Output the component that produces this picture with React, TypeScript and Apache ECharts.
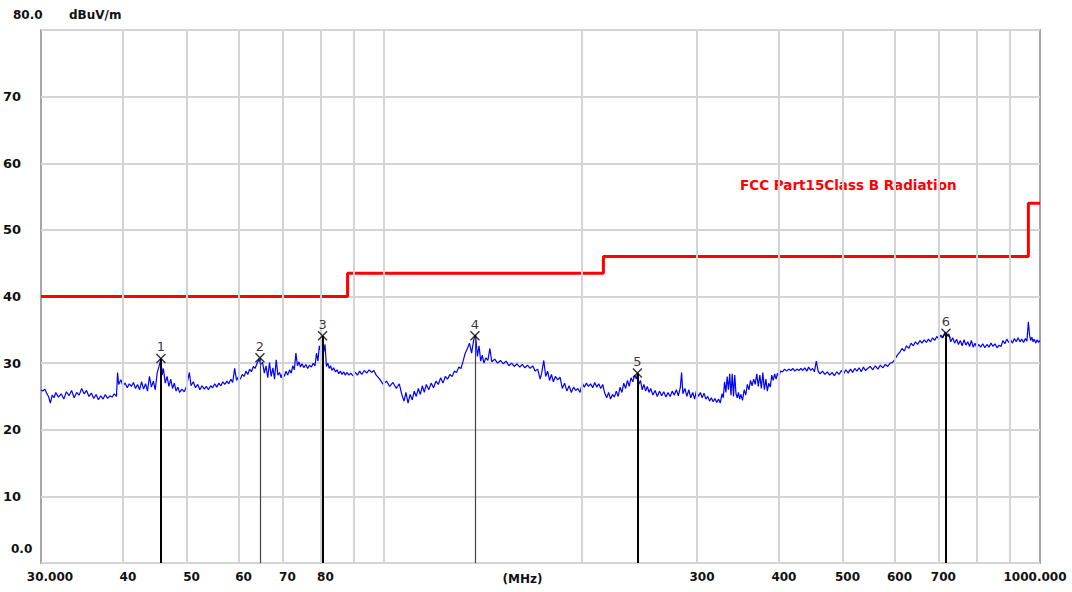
import React, { useEffect, useRef } from "react";
import * as echarts from "echarts";

// Limit line (FCC Part 15 Class B, 3 m) — [MHz, dBuV/m]
const limitSteps: [number, number][] = [
  [30, 40], [88, 40], [88, 43.5], [216, 43.5], [216, 46], [960, 46], [960, 54], [1000, 54],
];

// Measured trace — [MHz, dBuV/m]
const trace: [number, number][] = [
  [30.0, 26.0], [30.2, 25.8], [30.4, 26.1], [30.6, 25.5], [30.8, 25.0], [31.0, 24.0], [31.2, 25.2], [31.4, 24.8],
  [31.6, 25.6], [31.9, 24.9], [32.2, 25.4], [32.5, 24.6], [32.8, 25.7], [33.1, 25.1], [33.4, 25.9], [33.7, 24.8],
  [34.0, 25.6], [34.3, 25.2], [34.6, 26.2], [34.9, 25.4], [35.2, 25.9], [35.5, 25.0], [35.8, 25.5], [36.1, 24.7],
  [36.4, 25.3], [36.7, 24.5], [37.0, 25.1], [37.3, 24.6], [37.6, 25.3], [37.9, 24.7], [38.2, 25.1], [38.5, 24.9],
  [38.8, 25.4], [39.1, 25.0], [39.25, 28.6], [39.4, 26.8], [39.7, 27.5], [40.0, 26.6], [40.3, 27.0], [40.6, 26.3],
  [40.9, 26.9], [41.2, 26.5], [41.5, 27.1], [41.8, 26.2], [42.1, 26.8], [42.4, 26.0], [42.7, 27.2], [43.0, 26.1],
  [43.3, 26.9], [43.6, 25.8], [43.9, 28.0], [44.2, 26.4], [44.5, 27.3], [44.8, 26.0], [45.1, 28.5], [45.4, 29.5],
  [45.7, 30.6], [45.9, 28.2], [46.1, 29.2], [46.4, 27.0], [46.7, 28.0], [47.0, 26.5], [47.3, 27.6], [47.6, 26.2],
  [47.9, 27.0], [48.2, 25.8], [48.5, 26.4], [48.8, 25.6], [49.2, 26.1], [49.6, 25.7], [50.0, 26.5], [50.5, 28.6],
  [50.8, 26.6], [51.2, 27.2], [51.6, 26.3], [52.0, 26.8], [52.4, 26.0], [52.8, 26.6], [53.2, 26.1], [53.6, 26.5],
  [54.0, 26.0], [54.4, 26.6], [54.8, 26.3], [55.2, 26.9], [55.6, 26.4], [56.0, 27.0], [56.4, 26.6], [56.8, 27.2],
  [57.2, 26.8], [57.6, 27.3], [58.0, 26.9], [58.4, 27.6], [58.8, 27.1], [59.2, 29.2], [59.6, 27.4], [60.0, 28.0],
  [60.4, 27.6], [60.8, 28.3], [61.2, 28.0], [61.6, 28.8], [62.0, 28.3], [62.4, 29.1], [62.8, 28.7], [63.2, 29.5],
  [63.6, 29.2], [64.0, 29.9], [64.5, 30.6], [64.9, 29.8], [65.3, 30.1], [65.7, 28.5], [66.1, 29.6], [66.5, 27.8],
  [66.9, 30.1], [67.3, 28.0], [67.7, 29.3], [68.1, 27.6], [68.5, 30.5], [68.9, 28.2], [69.3, 28.6], [69.7, 27.8],
  [70.1, 28.6], [70.5, 28.0], [70.9, 28.8], [71.3, 28.2], [71.8, 29.0], [72.2, 28.5], [72.6, 29.6], [73.0, 29.0],
  [73.4, 31.5], [73.8, 29.6], [74.2, 30.2], [74.6, 29.4], [75.0, 29.9], [75.5, 29.3], [76.0, 29.8], [76.5, 29.2],
  [77.0, 29.7], [77.5, 29.4], [78.0, 30.0], [78.5, 29.6], [78.9, 31.5], [79.3, 30.3], [79.7, 32.6], [80.1, 31.8],
  [80.5, 33.9], [80.9, 31.6], [81.3, 32.8], [81.7, 29.5], [82.1, 30.0], [82.5, 29.2], [82.9, 29.6], [83.3, 28.9],
  [83.8, 29.3], [84.3, 28.7], [84.8, 29.0], [85.3, 28.4], [85.8, 28.8], [86.3, 28.3], [86.8, 28.7], [87.3, 28.2],
  [87.8, 28.6], [88.4, 28.2], [89.0, 28.5], [89.7, 28.1], [90.4, 28.6], [91.1, 28.2], [91.8, 28.8], [92.5, 28.3],
  [93.3, 28.9], [94.1, 28.5], [94.9, 29.0], [95.7, 28.6], [96.5, 28.9], [97.3, 28.2], [98.5, 27.6], [99.7, 26.8],
  [100.9, 27.3], [102.0, 26.5], [103.2, 27.1], [104.4, 26.2], [105.5, 26.9], [106.5, 25.2], [107.3, 24.3], [108.0, 25.6],
  [108.8, 24.0], [109.6, 25.3], [110.4, 24.5], [111.2, 25.8], [112.0, 25.0], [112.8, 26.2], [113.6, 25.3], [114.4, 26.6],
  [115.2, 25.6], [116.0, 26.8], [117.0, 26.0], [118.0, 27.0], [119.0, 26.3], [120.0, 27.3], [121.0, 26.8], [122.0, 27.8],
  [123.0, 27.0], [124.0, 28.0], [125.0, 27.6], [126.0, 28.3], [127.0, 28.0], [128.0, 28.8], [129.0, 28.6], [130.0, 29.4],
  [131.0, 29.2], [132.0, 30.3], [133.0, 31.5], [134.0, 32.2], [135.0, 33.0], [136.0, 31.5], [137.0, 33.5], [137.9, 34.2],
  [138.8, 31.0], [139.6, 32.6], [140.4, 30.3], [141.2, 31.2], [142.0, 30.0], [143.0, 30.8], [144.0, 30.4], [145.0, 32.2],
  [146.0, 30.2], [147.5, 30.6], [149.0, 30.0], [150.5, 30.4], [152.0, 29.9], [153.5, 30.3], [155.0, 29.6], [156.5, 30.0],
  [158.0, 29.5], [159.5, 29.9], [161.0, 29.4], [162.5, 29.8], [164.0, 29.3], [165.5, 29.7], [167.0, 29.2], [168.5, 29.6],
  [170.0, 28.8], [171.5, 29.1], [173.0, 27.6], [174.0, 28.6], [175.2, 30.4], [176.4, 28.0], [177.6, 28.8], [178.8, 27.4],
  [180.0, 28.3], [181.2, 27.2], [182.5, 28.0], [184.0, 27.5], [185.5, 27.9], [187.0, 26.2], [188.5, 27.0], [190.0, 25.8],
  [191.5, 26.6], [193.0, 25.6], [194.5, 26.4], [196.0, 25.9], [197.5, 26.2], [199.0, 25.6], [200.5, 27.0], [202.0, 26.4],
  [203.5, 27.0], [205.0, 26.5], [206.5, 26.9], [208.0, 26.3], [209.5, 27.1], [211.0, 26.4], [212.5, 26.9], [214.0, 26.2],
  [215.5, 26.8], [217.0, 25.5], [218.5, 24.8], [220.0, 25.6], [221.5, 24.6], [223.0, 25.3], [224.5, 24.9], [226.0, 25.8],
  [227.5, 25.0], [229.0, 26.4], [230.5, 25.6], [232.0, 27.0], [233.5, 26.2], [235.0, 27.4], [236.5, 26.5], [238.0, 27.8],
  [239.5, 27.2], [241.0, 28.2], [242.5, 27.6], [243.4, 28.4], [244.5, 26.8], [246.0, 27.4], [247.5, 26.0], [249.0, 26.8],
  [250.5, 25.8], [252.0, 26.5], [253.5, 25.6], [255.0, 26.2], [257.0, 25.2], [259.0, 25.9], [261.0, 25.0], [263.0, 25.8],
  [265.0, 25.1], [267.0, 25.7], [269.0, 24.9], [271.0, 25.6], [273.0, 25.0], [275.0, 25.8], [277.0, 25.2], [279.0, 26.0],
  [281.0, 25.1], [283.0, 26.4], [284.2, 28.6], [285.5, 25.4], [287.5, 26.2], [289.5, 25.0], [291.5, 26.0], [293.5, 24.8],
  [295.5, 25.6], [297.5, 24.6], [299.5, 25.9], [301.5, 25.0], [303.6, 25.6], [305.5, 24.8], [307.5, 25.5], [309.5, 24.6],
  [311.5, 25.0], [313.5, 24.3], [315.5, 24.8], [317.5, 24.2], [319.5, 24.7], [321.5, 24.1], [323.5, 24.6], [325.5, 24.0],
  [327.5, 25.4], [329.0, 24.8], [330.5, 27.2], [332.0, 25.6], [333.5, 28.0], [335.0, 26.0], [336.5, 28.4], [338.0, 25.2],
  [339.5, 28.4], [341.0, 25.0], [342.5, 28.2], [344.0, 25.4], [345.5, 24.8], [347.0, 25.6], [348.5, 24.6], [350.0, 25.3],
  [352.0, 24.4], [354.0, 26.0], [356.0, 25.2], [358.0, 26.8], [360.0, 26.0], [362.0, 27.4], [364.0, 26.6], [366.0, 27.6],
  [368.0, 26.8], [370.0, 28.4], [372.0, 26.5], [374.0, 28.2], [376.0, 26.2], [378.0, 28.6], [380.0, 26.0], [382.0, 27.6],
  [384.0, 25.8], [386.0, 27.0], [388.0, 26.4], [390.0, 28.2], [392.0, 27.4], [394.0, 28.4], [396.0, 27.6], [398.0, 28.5],
  [400.0, 27.9], [402.0, 28.8], [405.0, 28.7], [408.0, 29.1], [411.0, 28.8], [414.0, 29.1], [417.0, 28.9], [420.0, 29.2],
  [423.0, 28.8], [426.0, 29.1], [429.0, 28.9], [432.0, 29.2], [435.0, 28.9], [438.0, 29.3], [441.0, 28.8], [444.0, 29.4],
  [447.0, 28.9], [450.0, 29.2], [453.0, 28.7], [456.0, 30.3], [459.0, 28.8], [462.0, 28.4], [466.0, 28.8], [470.0, 28.3],
  [474.0, 28.7], [478.0, 28.2], [482.0, 28.6], [486.0, 28.1], [490.0, 28.7], [494.0, 28.3], [498.0, 28.9], [502.0, 28.4],
  [506.0, 29.0], [510.0, 28.5], [514.0, 29.1], [518.0, 28.6], [522.0, 29.2], [526.0, 28.8], [530.0, 29.3], [534.0, 28.7],
  [538.0, 29.4], [542.0, 28.9], [546.0, 29.2], [551.0, 29.5], [556.0, 29.0], [561.0, 29.6], [566.0, 29.1], [571.0, 29.7],
  [576.0, 29.3], [581.0, 29.8], [586.0, 29.5], [591.0, 30.0], [596.0, 30.1], [601.0, 30.6], [606.0, 31.2], [611.0, 31.6],
  [616.0, 32.2], [621.0, 31.8], [626.0, 32.6], [631.0, 32.2], [636.0, 33.0], [641.0, 32.6], [646.0, 33.2], [651.0, 32.8],
  [656.0, 33.4], [661.0, 33.0], [666.0, 33.5], [671.0, 33.1], [676.0, 33.6], [681.0, 33.2], [686.0, 33.8], [691.0, 33.4],
  [696.0, 34.0], [701.0, 33.6], [706.0, 34.2], [711.0, 33.8], [716.0, 34.6], [721.0, 34.0], [726.0, 34.4], [731.0, 33.2],
  [736.0, 33.8], [741.0, 33.0], [746.0, 33.6], [751.0, 32.8], [756.0, 33.4], [761.0, 32.6], [766.0, 33.5], [771.0, 32.7],
  [776.0, 33.2], [781.0, 32.5], [786.0, 33.4], [791.0, 32.4], [796.0, 33.0], [801.0, 32.3], [806.0, 32.8], [812.0, 32.4],
  [818.0, 32.9], [824.0, 32.3], [830.0, 32.8], [836.0, 32.4], [842.0, 33.0], [848.0, 32.5], [854.0, 32.9], [860.0, 32.3],
  [866.0, 32.7], [872.0, 32.5], [878.0, 33.4], [884.0, 32.9], [890.0, 33.6], [896.0, 33.1], [902.0, 33.5], [908.0, 33.0],
  [914.0, 33.7], [920.0, 33.2], [926.0, 33.8], [932.0, 33.2], [938.0, 33.6], [944.0, 33.1], [950.0, 33.7], [955.0, 33.3],
  [960.0, 36.2], [964.0, 34.2], [968.0, 33.4], [972.0, 33.9], [976.0, 33.2], [980.0, 33.6], [985.0, 33.0], [990.0, 33.5],
  [995.0, 33.1], [1000.0, 33.4],
];

// Peak markers — [MHz, dBuV/m, number]
const markers: [number, number, number][] = [
  [45.7, 30.7, 1], [64.7, 30.8, 2], [80.6, 34.1, 3], [137.6, 34.1, 4], [243.4, 28.5, 5], [719.0, 34.5, 6],
];
const thinMarkers = [2, 4];

// Frequency grid lines and tick labels
const xGrid = [40, 50, 60, 70, 80, 90, 100, 200, 300, 400, 500, 600, 700, 800, 900];
const xTickLabels: [number, string][] = [
  [30, "30.000"], [40, "40"], [50, "50"], [60, "60"], [70, "70"], [80, "80"],
  [300, "300"], [400, "400"], [500, "500"], [600, "600"], [700, "700"], [1000, "1000.000"],
];
const limitName = "FCC Part15Class B Radiation";

const FONT = "'DejaVu Sans', 'Liberation Sans', Arial, sans-serif";

export default function App() {
  const ref = useRef<HTMLDivElement>(null);
  useEffect(() => {
    if (!ref.current) return;
    const chart = echarts.init(ref.current, null, { renderer: "svg" });
    const labelMap = new Map(xTickLabels.map(([v, t]) => [v, t]));
    const allX = Array.from(new Set([30, ...xGrid, 1000])).sort((a, b) => a - b);
    const gridLineData = allX.map((v) => {
      const t = labelMap.get(v);
      const edge = v === 30 || v === 1000;
      let padding: number[] = [0, 0, 0, 10];
      if (v === 30) padding = [0, 0, 0, 18];
      if (v === 1000) padding = [0, 10, 0, 0];
      return {
        xAxis: v,
        lineStyle: { color: edge ? "rgba(0,0,0,0)" : "#d4d4d4", width: 2, type: "solid" },
        label: {
          show: !!t,
          formatter: t || "",
          position: "start",
          distance: 8,
          padding,
          color: "#111",
          fontFamily: FONT,
          fontWeight: "bold",
          fontSize: 12,
        },
      };
    });

    const richBase = { color: "#111", fontFamily: FONT, fontWeight: "bold", fontSize: 12 };

    chart.setOption({
      animation: false,
      backgroundColor: "#ffffff",
      grid: {
        left: 40, right: 32, top: 30, bottom: 29,
        show: true, borderColor: "#a6a6a6", borderWidth: 2, backgroundColor: "#ffffff",
      },
      xAxis: {
        type: "log",
        logBase: 10,
        min: 30,
        max: 1000,
        name: "(MHz)",
        nameLocation: "middle",
        nameGap: 10,
        nameTextStyle: { color: "#111", fontFamily: FONT, fontWeight: "bold", fontSize: 12, padding: [0, 36, 0, 0] },
        axisLine: { show: false },
        axisTick: { show: false },
        axisLabel: { show: false },
        splitLine: { show: false },
        minorSplitLine: { show: false },
      },
      yAxis: {
        type: "value",
        min: 0,
        max: 80,
        interval: 10,
        name: "dBuV/m",
        nameLocation: "end",
        nameGap: 9,
        nameTextStyle: { color: "#111", fontFamily: FONT, fontWeight: "bold", fontSize: 12, align: "left", padding: [0, 0, 0, 28] },
        axisLine: { show: false },
        axisTick: { show: false },
        splitLine: { show: true, lineStyle: { color: "#d4d4d4", width: 2 } },
        axisLabel: {
          align: "left",
          margin: 38,
          color: "#111",
          fontFamily: FONT,
          fontWeight: "bold",
          fontSize: 13,
          formatter: (v: number) => (v === 0 ? "{z|0.0}" : v === 80 ? "{t|80.0}" : String(v)),
          rich: {
            z: { ...richBase, padding: [0, 0, 28, 8] },
            t: { ...richBase, padding: [0, 0, 30, 10] },
          },
        },
      },
      graphic: [
        {
          type: "text",
          left: 740,
          top: 178,
          style: { text: limitName, fill: "#ff0000", font: "bold 13.5px " + FONT },
        },
      ],
      series: [
        {
          name: "grid",
          type: "line",
          data: [],
          z: 1,
          silent: true,
          markLine: {
            silent: true,
            symbol: ["none", "none"],
            animation: false,
            data: gridLineData,
          },
        },
        {
          name: limitName,
          type: "line",
          data: limitSteps,
          showSymbol: false,
          z: 3,
          lineStyle: { color: "#ff0000", width: 3 },
          silent: true,
        },
        {
          name: "trace",
          type: "line",
          data: trace,
          showSymbol: false,
          z: 4,
          lineStyle: { color: "#0000ff", width: 1.2 },
          silent: true,
        },
        {
          name: "markers",
          type: "scatter",
          data: markers,
          z: 5,
          symbol: "path://M0,1L1,0L5,4L9,0L10,1L6,5L10,9L9,10L5,6L1,10L0,9L4,5Z",
          symbolSize: 10,
          itemStyle: { color: "#000" },
          label: {
            show: true,
            position: "top",
            distance: 0,
            formatter: (p: any) => String(p.value[2]),
            color: "#000",
            fontFamily: FONT,
            fontSize: 13,
          },
          silent: true,
          markLine: {
            silent: true,
            symbol: ["none", "none"],
            label: { show: false },
            data: markers.map(([f, v, n]) => [
              {
                coord: [f, v],
                lineStyle: {
                  color: thinMarkers.includes(n) ? "#444" : "#000",
                  width: thinMarkers.includes(n) ? 1.2 : 2,
                  type: "solid",
                },
              },
              { coord: [f, 0] },
            ]),
          },
        },
      ],
    });
    return () => chart.dispose();
  }, []);
  return (
    <div
      ref={ref}
      style={{ position: "fixed", left: 0, top: 0, width: 1072, height: 592, background: "#fff" }}
    />
  );
}
